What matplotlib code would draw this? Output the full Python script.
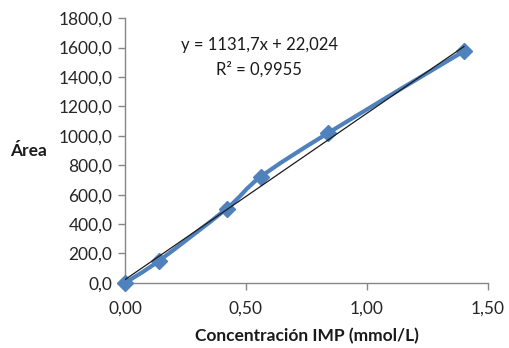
import numpy as np
import matplotlib
matplotlib.use("Agg")
import matplotlib.pyplot as plt
from matplotlib.path import Path
from matplotlib.patches import PathPatch
from matplotlib.ticker import FuncFormatter

plt.rcParams['font.family'] = ['Lato', 'DejaVu Sans']

# Calibration data
conc = [0.00, 0.14, 0.42, 0.56, 0.84, 1.40]
area = [0.0, 150.0, 505.0, 720.0, 1020.0, 1575.0]

# Linear fit as reported
slope = 1131.7
intercept = 22.024
r2 = 0.9955

x_ticks = [0.0, 0.5, 1.0, 1.5]
y_ticks = [0, 200, 400, 600, 800, 1000, 1200, 1400, 1600, 1800]

blue = '#4F81BD'
grey = '#868686'
ink = '#1a1a1a'

fig = plt.figure(figsize=(5.10, 3.48), dpi=100)
ax = fig.add_axes([0.245, 0.187, 0.712, 0.761])

# Smoothed series line (Catmull-Rom converted to cubic Bezier segments)
x = np.array(conc)
y = np.array(area)
verts = [(x[0], y[0])]
codes = [Path.MOVETO]
t = 1.0 / 6.0
for i in range(len(x) - 1):
    i0 = max(i - 1, 0)
    i3 = min(i + 2, len(x) - 1)
    c1 = (x[i] + (x[i + 1] - x[i0]) * t, y[i] + (y[i + 1] - y[i0]) * t)
    c2 = (x[i + 1] - (x[i3] - x[i]) * t, y[i + 1] - (y[i3] - y[i]) * t)
    verts += [c1, c2, (x[i + 1], y[i + 1])]
    codes += [Path.CURVE4] * 3
ax.add_patch(PathPatch(Path(verts, codes), facecolor='none', edgecolor=blue,
                       lw=3.0, capstyle='round', joinstyle='round', zorder=2,
                       clip_on=False))
ax.plot(conc, area, linestyle='none', marker='D', markersize=8.5,
        color=blue, markeredgecolor=blue, zorder=3, clip_on=False)

# Trendline
xt = np.array([conc[0], conc[-1]])
ax.plot(xt, slope * xt + intercept, color=ink, lw=0.9, zorder=4)

ax.set_xlim(0, 1.5)
ax.set_ylim(0, 1800)
ax.set_xticks(x_ticks)
ax.set_yticks(y_ticks)
ax.xaxis.set_major_formatter(FuncFormatter(lambda v, p: f"{v:.2f}".replace('.', ',')))
ax.yaxis.set_major_formatter(FuncFormatter(lambda v, p: f"{v:.1f}".replace('.', ',')))

for s in ['top', 'right']:
    ax.spines[s].set_visible(False)
for s in ['left', 'bottom']:
    ax.spines[s].set_color(grey)
    ax.spines[s].set_linewidth(1.0)
ax.tick_params(axis='both', direction='out', length=5, width=1.0, color=grey,
               labelsize=12.5, labelcolor='#262626')
ax.tick_params(axis='x', pad=8)
ax.tick_params(axis='y', pad=4)

ax.set_xlabel('Concentración IMP (mmol/L)', fontsize=12.5, fontweight='bold',
              color=ink, labelpad=8)
fig.text(0.02, 0.565, 'Área', fontsize=12.5, fontweight='bold', color=ink,
         ha='left', va='center')

ax.text(0.37, 0.90, f"y = {slope:.1f}x + {intercept:.3f}".replace('.', ','),
        transform=ax.transAxes, ha='center', va='center', fontsize=12, color=ink)
ax.text(0.37, 0.805, f"R² = {r2:.4f}".replace('.', ','),
        transform=ax.transAxes, ha='center', va='center', fontsize=12, color=ink)

fig.savefig('out.png', dpi=100)
